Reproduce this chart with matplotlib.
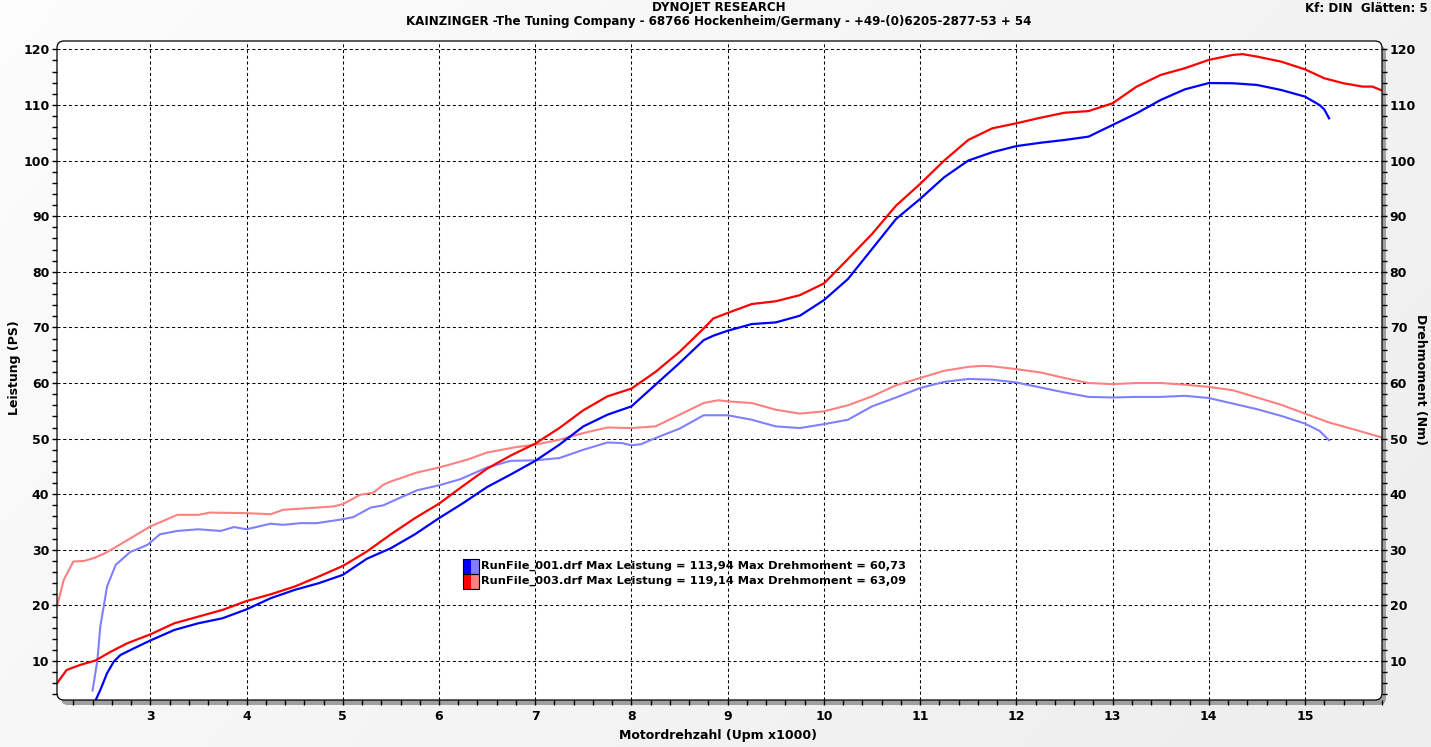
import numpy as np
import matplotlib
matplotlib.use("Agg")
import matplotlib.pyplot as plt
from matplotlib.patches import FancyBboxPatch, Rectangle
from matplotlib.ticker import MultipleLocator
from matplotlib.transforms import IdentityTransform

# ---------------- data ----------------
rpm_pwr_003 = [2.03, 2.13, 2.27, 2.43, 2.58, 2.76, 3.0, 3.25, 3.5, 3.75, 4.0, 4.25, 4.5, 4.75,
               5.0, 5.25, 5.5, 5.75, 6.0, 6.25, 6.5, 6.75, 7.0, 7.25, 7.5, 7.75, 8.0, 8.25,
               8.5, 8.75, 8.85, 9.0, 9.25, 9.5, 9.75, 10.0, 10.25, 10.5, 10.75, 11.0, 11.25, 11.5,
               11.75, 12.0, 12.25, 12.5, 12.75, 13.0, 13.25, 13.5, 13.75, 14.0, 14.25, 14.35,
               14.5, 14.75, 15.0, 15.2, 15.4, 15.6, 15.7, 15.8]
pwr_003 = [6.0, 8.4, 9.3, 10.1, 11.6, 13.2, 14.8, 16.8, 18.0, 19.2, 20.8, 22.0, 23.4, 25.2,
           27.1, 29.7, 32.8, 35.7, 38.3, 41.5, 44.6, 47.0, 49.1, 51.9, 55.1, 57.6, 59.0, 62.0,
           65.6, 69.8, 71.6, 72.6, 74.2, 74.7, 75.8, 77.9, 82.3, 86.8, 91.9, 95.8, 100.0, 103.7,
           105.8, 106.7, 107.7, 108.6, 108.9, 110.3, 113.3, 115.4, 116.6, 118.1, 119.0, 119.14,
           118.7, 117.8, 116.4, 114.8, 113.9, 113.3, 113.3, 112.6]

rpm_pwr_001 = [2.43, 2.48, 2.55, 2.62, 2.69, 2.83, 3.0, 3.25, 3.5, 3.75, 4.0, 4.25, 4.5, 4.75,
               5.0, 5.25, 5.5, 5.75, 6.0, 6.25, 6.5, 6.75, 7.0, 7.25, 7.5, 7.75, 8.0, 8.25,
               8.5, 8.75, 8.85, 9.0, 9.25, 9.5, 9.75, 10.0, 10.25, 10.5, 10.75, 11.0, 11.25, 11.5,
               11.75, 12.0, 12.25, 12.5, 12.75, 13.0, 13.25, 13.5, 13.75, 14.0, 14.25, 14.5,
               14.75, 15.0, 15.15, 15.2, 15.25]
pwr_001 = [2.9, 4.8, 7.8, 9.9, 11.1, 12.3, 13.7, 15.6, 16.8, 17.7, 19.3, 21.3, 22.8, 24.0,
           25.5, 28.4, 30.3, 32.8, 35.7, 38.4, 41.3, 43.6, 46.0, 48.9, 52.2, 54.3, 55.8, 59.7,
           63.6, 67.7, 68.5, 69.4, 70.6, 70.9, 72.1, 74.9, 78.7, 84.1, 89.5, 93.1, 97.0, 100.0,
           101.5, 102.6, 103.2, 103.7, 104.3, 106.4, 108.5, 110.9, 112.8, 113.94, 113.9, 113.6,
           112.7, 111.5, 110.0, 109.2, 107.6]

rpm_trq_003 = [2.03, 2.10, 2.20, 2.31, 2.41, 2.53, 2.65, 3.0, 3.28, 3.5, 3.62, 4.0, 4.25, 4.38,
               4.73, 4.9, 5.0, 5.18, 5.32, 5.42, 5.5, 5.77, 6.0, 6.29, 6.5, 6.81, 7.0, 7.25,
               7.5, 7.75, 8.0, 8.25, 8.5, 8.75, 8.9, 9.0, 9.25, 9.5, 9.75, 10.0, 10.25, 10.5,
               10.75, 11.0, 11.25, 11.5, 11.65, 11.75, 12.0, 12.25, 12.5, 12.75, 13.0, 13.25,
               13.5, 13.75, 14.0, 14.25, 14.5, 14.75, 15.0, 15.25, 15.5, 15.8]
trq_003 = [19.8, 24.6, 27.9, 28.0, 28.5, 29.4, 30.6, 34.2, 36.3, 36.3, 36.7, 36.6, 36.4, 37.2,
           37.6, 37.8, 38.2, 39.9, 40.3, 41.7, 42.3, 43.9, 44.8, 46.2, 47.5, 48.5, 48.9, 49.8,
           51.0, 52.0, 51.9, 52.2, 54.3, 56.4, 56.9, 56.7, 56.4, 55.2, 54.5, 54.9, 56.0, 57.6,
           59.6, 60.9, 62.2, 62.9, 63.09, 63.0, 62.5, 61.9, 60.9, 60.0, 59.8, 60.0,
           60.0, 59.7, 59.3, 58.7, 57.4, 56.1, 54.5, 52.9, 51.7, 50.2]

rpm_trq_001 = [2.40, 2.45, 2.48, 2.55, 2.64, 2.79, 2.97, 3.10, 3.28, 3.5, 3.73, 3.87, 4.0, 4.25,
               4.38, 4.56, 4.73, 5.0, 5.11, 5.29, 5.42, 5.6, 5.77, 6.0, 6.22, 6.5, 6.74, 7.0,
               7.25, 7.5, 7.75, 7.9, 8.0, 8.1, 8.25, 8.5, 8.75, 9.0, 9.25, 9.5, 9.75, 10.0,
               10.25, 10.5, 10.75, 11.0, 11.25, 11.5, 11.75, 12.0, 12.25, 12.5, 12.75, 13.0,
               13.25, 13.5, 13.75, 14.0, 14.25, 14.5, 14.75, 15.0, 15.15, 15.25]
trq_001 = [4.7, 10.2, 16.2, 23.4, 27.3, 29.6, 30.9, 32.8, 33.4, 33.7, 33.4, 34.1, 33.7, 34.7,
           34.5, 34.8, 34.8, 35.5, 35.9, 37.6, 38.0, 39.4, 40.7, 41.6, 42.7, 44.8, 46.0, 46.1,
           46.5, 48.0, 49.3, 49.2, 48.8, 49.0, 50.1, 51.8, 54.2, 54.2, 53.4, 52.2, 51.9, 52.6,
           53.4, 55.8, 57.4, 59.1, 60.2, 60.73, 60.6, 60.1, 59.2, 58.3, 57.5, 57.4,
           57.5, 57.5, 57.7, 57.3, 56.3, 55.3, 54.1, 52.7, 51.4, 49.7]

legend_lines = ["RunFile_001.drf Max Leistung = 113,94 Max Drehmoment = 60,73",
                "RunFile_003.drf Max Leistung = 119,14 Max Drehmoment = 63,09"]
x_ticks = list(range(3, 16))
y_ticks = list(range(10, 121, 10))

# ---------------- figure ----------------
plt.rcParams['font.family'] = ['DejaVu Sans']
plt.rcParams['font.weight'] = 'bold'
W, H = 1431, 747
fig = plt.figure(figsize=(W / 100, H / 100), dpi=100)
fig.patch.set_facecolor('#f0f0f0')

# gradient background
bg = fig.add_axes([0, 0, 1, 1], zorder=-20)
gx = np.linspace(0, 1, 300)[None, :]
gy = np.linspace(0, 1, 150)[:, None]
t = np.clip(0.75 * gx + 0.35 * gy, 0, 1)
c0 = np.array([0.99, 0.99, 0.99])
c1 = np.array([0.935, 0.935, 0.935])
img = c0[None, None, :] * (1 - t[..., None]) + c1[None, None, :] * t[..., None]
bg.imshow(img, aspect='auto', extent=[0, 1, 0, 1], origin='upper')
bg.set_axis_off()

L, R, T, B = 57, 1382, 41, 700
idt = IdentityTransform()
# shadow
shadow = FancyBboxPatch((L + 4, H - B - 5), R - L, B - T, boxstyle="round,pad=0,rounding_size=7",
                        transform=idt, facecolor='#a0a0a0', edgecolor='none', zorder=-5)
fig.add_artist(shadow)
frame_fill = FancyBboxPatch((L, H - B), R - L, B - T, boxstyle="round,pad=0,rounding_size=7",
                            transform=idt, facecolor='white', edgecolor='none', zorder=-4)
fig.add_artist(frame_fill)

ax = fig.add_axes([L / W, (H - B) / H, (R - L) / W, (B - T) / H])
ax.set_facecolor('none')
for s in ax.spines.values():
    s.set_visible(False)
ax.set_xlim(2.03, 15.8)
ax.set_ylim(3.0, 121.5)
ax.set_xticks(x_ticks)
ax.set_yticks(y_ticks)
ax.xaxis.set_minor_locator(MultipleLocator(0.2))
ax.yaxis.set_minor_locator(MultipleLocator(2))
ax.grid(which='major', color='black', linestyle=(0, (3, 2.5)), linewidth=0.75)
ax.tick_params(which='both', direction='out', length=3.5, width=1, color='black',
               labelsize=9, pad=2)
ax.tick_params(axis='x', which='both', pad=4)

ax2 = ax.twinx()
for s in ax2.spines.values():
    s.set_visible(False)
ax2.set_ylim(ax.get_ylim())
ax2.set_yticks(y_ticks)
ax2.yaxis.set_minor_locator(MultipleLocator(2))
ax2.tick_params(which='both', direction='out', length=3.5, width=1, color='black',
                labelsize=9, pad=2)

ax2.plot(rpm_trq_003, trq_003, color='#ff8080', lw=1.5, solid_joinstyle='round')
ax2.plot(rpm_trq_001, trq_001, color='#8080ff', lw=1.5, solid_joinstyle='round')
ax2.plot(rpm_pwr_003, pwr_003, color='#ff0000', lw=1.6, solid_joinstyle='round')
ax2.plot(rpm_pwr_001, pwr_001, color='#0000ff', lw=1.6, solid_joinstyle='round')

frame_edge = FancyBboxPatch((L, H - B), R - L, B - T, boxstyle="round,pad=0,rounding_size=7",
                            transform=idt, facecolor='none', edgecolor='black', lw=0.9, zorder=10)
fig.add_artist(frame_edge)

# legend
sw_x, sw_w = 463, 16
rows_y = [566, 581]
dark = ['#0000ff', '#ff0000']
light = ['#8080ff', '#ff8080']
for i, (yy, txt) in enumerate(zip(rows_y, legend_lines)):
    y0 = H - yy - 7.5
    fig.add_artist(Rectangle((sw_x, y0), sw_w / 2, 15, transform=idt, facecolor=dark[i],
                             edgecolor='none', zorder=11))
    fig.add_artist(Rectangle((sw_x + sw_w / 2, y0), sw_w / 2, 15, transform=idt,
                             facecolor=light[i], edgecolor='none', zorder=11))
    fig.add_artist(Rectangle((sw_x, y0), sw_w, 15, transform=idt, facecolor='none',
                             edgecolor='black', lw=0.8, zorder=12))
    fig.text(481 / W, 1 - yy / H, txt, ha='left', va='center', fontsize=8.2, color='black',
             zorder=12)

# texts
fig.text(719 / W, 1 - 8 / H, 'DYNOJET RESEARCH', ha='center', va='center', fontsize=8.6)
fig.text(719 / W, 1 - 22 / H,
         'KAINZINGER -The Tuning Company - 68766 Hockenheim/Germany - +49-(0)6205-2877-53 + 54',
         ha='center', va='center', fontsize=8.6)
fig.text(1428 / W, 1 - 8 / H, 'Kf: DIN  Glätten: 5', ha='right', va='center', fontsize=8.6)
fig.text(718 / W, 1 - 735 / H, 'Motordrehzahl (Upm x1000)', ha='center', va='center', fontsize=9)
fig.text(15 / W, 1 - 368 / H, 'Leistung (PS)', ha='center', va='center', rotation=90, fontsize=9)
fig.text(1421 / W, 1 - 380 / H, 'Drehmoment (Nm)', ha='center', va='center', rotation=270,
         fontsize=9)

fig.savefig('out.png', dpi=100, facecolor=fig.get_facecolor())
